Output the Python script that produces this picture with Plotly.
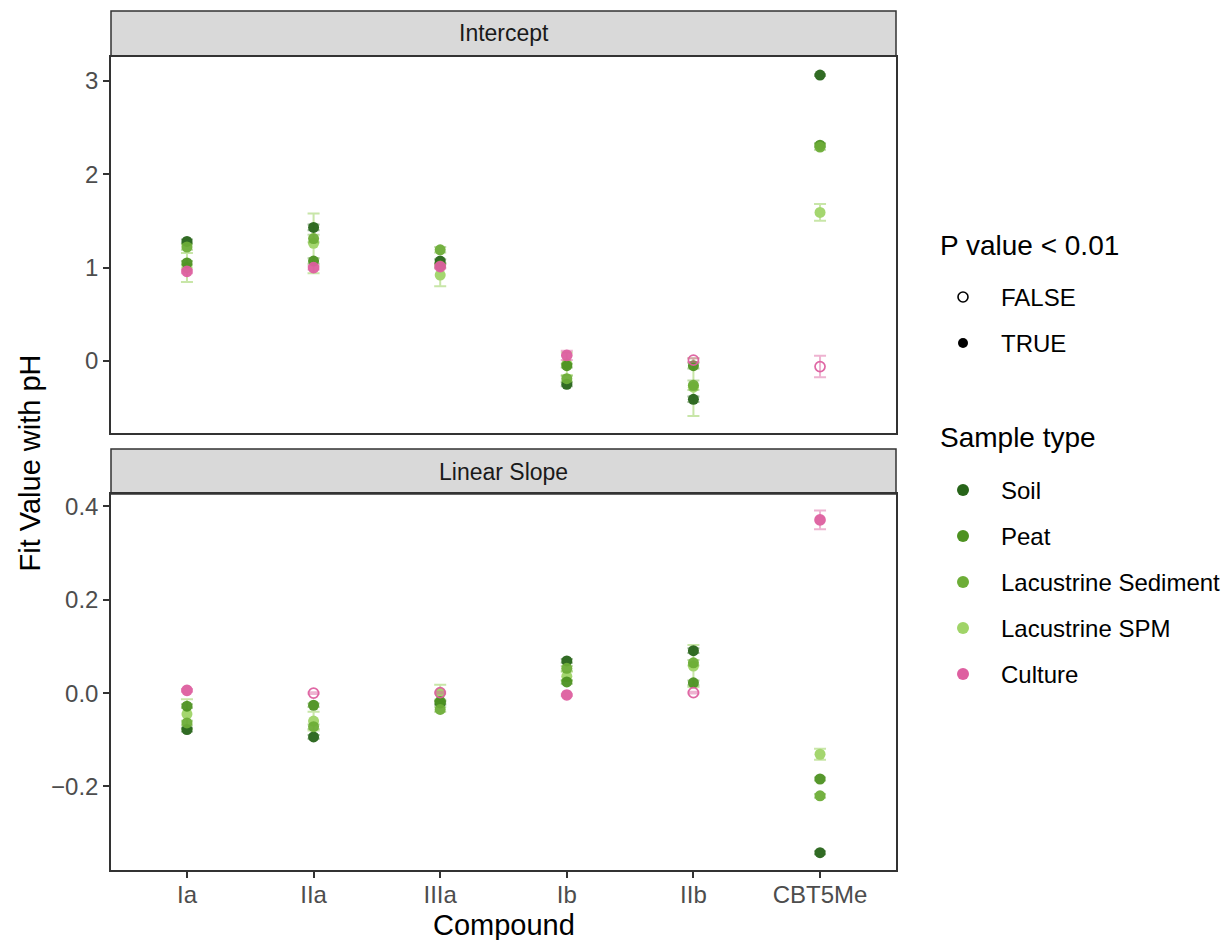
import plotly.graph_objects as go

# ---- data -------------------------------------------------------------
compounds = ["Ia", "IIa", "IIIa", "Ib", "IIb", "CBT5Me"]
sample_types = ["Soil", "Peat", "Lacustrine Sediment", "Lacustrine SPM", "Culture"]
type_colors = ["#276419", "#4d9221", "#6dad37", "#a0d468", "#de5fa0"]
type_err_colors = ["rgba(39,100,25,0.45)", "rgba(77,146,33,0.45)", "rgba(109,173,55,0.45)",
                   "rgba(160,212,104,0.6)", "rgba(222,95,160,0.5)"]

# Intercept fits
soil_int = [1.28, 1.43, 1.07, -0.25, -0.41, 3.06]
peat_int = [1.05, 1.07, 1.02, -0.05, -0.05, 2.31]
lacsed_int = [1.22, 1.31, 1.19, -0.19, -0.26, 2.29]
spm_int = [1.00, 1.26, 0.92, -0.03, -0.28, 1.59]
culture_int = [0.96, 1.00, 1.01, 0.06, 0.01, -0.06]

soil_int_err = [0.02, 0.03, 0.02, 0.02, 0.03, 0.01]
peat_int_err = [0.02, 0.03, 0.02, 0.02, 0.03, 0.02]
lacsed_int_err = [0.03, 0.04, 0.03, 0.03, 0.05, 0.03]
spm_int_err = [0.155, 0.32, 0.12, 0.12, 0.31, 0.09]
culture_int_err = [0.02, 0.02, 0.02, 0.05, 0.02, 0.115]
culture_int_sig = [True, True, True, True, False, False]

# Linear slope fits
soil_sl = [-0.078, -0.094, -0.021, 0.069, 0.091, -0.342]
peat_sl = [-0.028, -0.026, -0.018, 0.024, 0.022, -0.184]
lacsed_sl = [-0.064, -0.072, -0.035, 0.053, 0.065, -0.220]
spm_sl = [-0.045, -0.060, 0.000, 0.036, 0.058, -0.131]
culture_sl = [0.006, 0.000, 0.001, -0.004, 0.001, 0.371]

soil_sl_err = [0.004, 0.004, 0.004, 0.004, 0.005, 0.003]
peat_sl_err = [0.004, 0.004, 0.004, 0.004, 0.005, 0.003]
lacsed_sl_err = [0.005, 0.005, 0.005, 0.005, 0.006, 0.004]
spm_sl_err = [0.032, 0.02, 0.018, 0.01, 0.045, 0.012]
culture_sl_err = [0.003, 0.002, 0.002, 0.002, 0.002, 0.02]
culture_sl_sig = [True, False, False, True, False, True]

p_levels = ["FALSE", "TRUE"]

# ---- geometry (pixels) ------------------------------------------------
W, H = 1225, 940
FONT = "Liberation Sans, Arial, Helvetica, sans-serif"
px_x = lambda p: p / W
px_y = lambda p: 1 - p / H
panel_x = (111, 896)
top_panel = (57, 433)
bot_panel = (494, 870)
top_strip = (11, 56)
bot_strip = (449, 494)

fig = go.Figure()

# draw order: SPM underneath, then soil, peat, sediment, culture on top
order = [3, 0, 1, 2, 4]
int_vals = [soil_int, peat_int, lacsed_int, spm_int, culture_int]
int_errs = [soil_int_err, peat_int_err, lacsed_int_err, spm_int_err, culture_int_err]
sl_vals = [soil_sl, peat_sl, lacsed_sl, spm_sl, culture_sl]
sl_errs = [soil_sl_err, peat_sl_err, lacsed_sl_err, spm_sl_err, culture_sl_err]

for panel, vals, errs, sig, xa, ya in [
    ("int", int_vals, int_errs, culture_int_sig, "x", "y"),
    ("sl", sl_vals, sl_errs, culture_sl_sig, "x2", "y2"),
]:
    for i in order:
        if sample_types[i] == "Culture":
            symbols = ["circle" if s else "circle-open" for s in sig]
            marker = dict(size=10, color=type_colors[i], symbol=symbols,
                          line=dict(width=1.7, color=type_colors[i]))
        else:
            marker = dict(size=11, color=type_colors[i], symbol="circle", line=dict(width=0))
        fig.add_trace(go.Scatter(
            x=compounds, y=vals[i], mode="markers", name=sample_types[i],
            marker=marker, opacity=0.95,
            error_y=dict(type="data", array=errs[i], visible=True,
                         color=type_err_colors[i], thickness=2, width=6),
            xaxis=xa, yaxis=ya, showlegend=False, hoverinfo="x+y+name",
        ))

axis_common = dict(
    showline=True, linecolor="#333333", linewidth=1.5, mirror=True,
    showgrid=False, zeroline=False, ticks="outside", ticklen=6, tickwidth=1.5,
    tickcolor="#333333", tickfont=dict(family=FONT, size=24, color="#4d4d4d"),
)

fig.update_layout(
    width=W, height=H,
    margin=dict(l=0, r=0, t=0, b=0),
    paper_bgcolor="white", plot_bgcolor="white",
    font=dict(family=FONT),
    showlegend=False,
    xaxis=dict(axis_common, domain=[px_x(panel_x[0]), px_x(panel_x[1])], anchor="y",
               type="category", categoryorder="array", categoryarray=compounds,
               range=[-0.6, 5.6], showticklabels=False, ticks=""),
    yaxis=dict(axis_common, domain=[px_y(top_panel[1]), px_y(top_panel[0])], anchor="x",
               range=[-0.771, 3.254], tickvals=[0, 1, 2, 3], ticktext=["0", "1", "2", "3"],
               automargin=False),
    xaxis2=dict(axis_common, domain=[px_x(panel_x[0]), px_x(panel_x[1])], anchor="y2",
                type="category", categoryorder="array", categoryarray=compounds,
                range=[-0.6, 5.6], automargin=False, ticklabelstandoff=-4),
    yaxis2=dict(axis_common, domain=[px_y(bot_panel[1]), px_y(bot_panel[0])], anchor="x2",
                range=[-0.379, 0.4266], tickvals=[-0.2, 0.0, 0.2, 0.4],
                ticktext=["\u22120.2", "0.0", "0.2", "0.4"], automargin=False),
)

shapes = []
annotations = []

# facet strips
for (s0, s1), label in [(top_strip, "Intercept"), (bot_strip, "Linear Slope")]:
    shapes.append(dict(type="rect", xref="paper", yref="paper",
                       x0=px_x(panel_x[0]), x1=px_x(panel_x[1]), y0=px_y(s1), y1=px_y(s0),
                       fillcolor="#d9d9d9", line=dict(color="#333333", width=1.5), layer="below"))
    annotations.append(dict(text=label, xref="paper", yref="paper",
                            x=px_x((panel_x[0] + panel_x[1]) / 2), y=px_y((s0 + s1) / 2),
                            xanchor="center", yanchor="middle", showarrow=False,
                            font=dict(family=FONT, size=23, color="#1a1a1a")))

# axis titles
annotations.append(dict(text="Compound", xref="paper", yref="paper",
                        x=px_x((panel_x[0] + panel_x[1]) / 2), y=px_y(925),
                        xanchor="center", yanchor="middle", showarrow=False,
                        font=dict(family=FONT, size=29, color="black")))
annotations.append(dict(text="Fit Value with pH", xref="paper", yref="paper",
                        x=px_x(30), y=px_y((top_panel[0] + bot_panel[1]) / 2),
                        xanchor="center", yanchor="middle", showarrow=False, textangle=-90,
                        font=dict(family=FONT, size=29, color="black")))

# legends
def legend_title(text, y):
    annotations.append(dict(text=text, xref="paper", yref="paper", x=px_x(938), y=px_y(y),
                            xanchor="left", yanchor="middle", showarrow=False,
                            font=dict(family=FONT, size=28, color="black")))

def legend_item(text, y, color, filled, size):
    shapes.append(dict(type="circle", xref="paper", yref="paper",
                       xsizemode="pixel", ysizemode="pixel",
                       xanchor=px_x(963), yanchor=px_y(y),
                       x0=-size / 2, x1=size / 2, y0=-size / 2, y1=size / 2,
                       fillcolor=color if filled else "white",
                       line=dict(color=color, width=1.6 if not filled else 0)))
    annotations.append(dict(text=text, xref="paper", yref="paper", x=px_x(999), y=px_y(y),
                            xanchor="left", yanchor="middle", showarrow=False,
                            font=dict(family=FONT, size=24, color="black")))

legend_title("P value < 0.01", 245)
for k, lvl in enumerate(p_levels):
    legend_item(lvl, 297 + 46 * k, "black", lvl == "TRUE", 10)

legend_title("Sample type", 438)
for k, (name, col) in enumerate(zip(sample_types, type_colors)):
    legend_item(name, 490 + 46 * k, col, True, 12)

fig.update_layout(shapes=shapes, annotations=annotations)
fig.write_html("out.html")
